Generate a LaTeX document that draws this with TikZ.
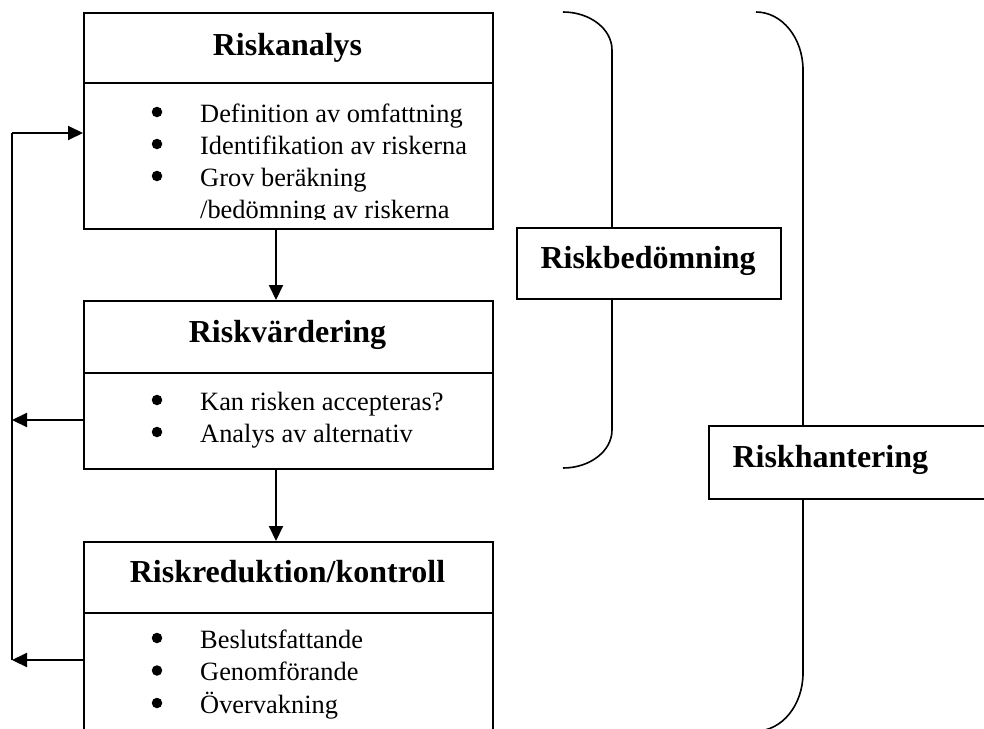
\documentclass[tikz,border=0pt]{standalone}
\usepackage{fontspec}
\setmainfont{Liberation Serif}
\usetikzlibrary{arrows.meta}

\tikzset{
    stage/.style={draw, line width=2pt, anchor=north west, inner sep=0pt},
    head/.style={font=\fontsize{32}{38}\selectfont\bfseries, anchor=base},
    item/.style={font=\fontsize{26.4}{32}\selectfont, anchor=base west, inner sep=0pt},
    dot/.style={circle, fill, inner sep=0pt, minimum size=10.5pt},
    tag/.style={draw, line width=2pt, fill=white, anchor=north west, inner sep=0pt},
    flow/.style={line width=2pt, -{Triangle[length=15pt,width=14pt]}},
    brace/.style={line width=1.6pt}
}

\begin{document}
\begin{tikzpicture}[x=1pt,y=-1pt]
        \useasboundingbox (0,0) rectangle (984,728);
        \clip (0,0) rectangle (984,728);
        % the three stages
        \node[stage, minimum width=409pt, minimum height=216pt] (ana) at (83,12) {};
        \node[stage, minimum width=409pt, minimum height=168pt] (val) at (83,300) {};
        \node[stage, minimum width=409pt, minimum height=200pt] (ctl) at (83,541) {};
        \draw [line width=2pt] (83,83) -- (492,83);
        \draw [line width=2pt] (83,373) -- (492,373);
        \draw [line width=2pt] (83,613) -- (492,613);
        \node[head] (anaT) at (287.5,55) {Riskanalys};
        \node[head] (valT) at (287.5,342) {Riskvärdering};
        \node[head] (ctlT) at (287.5,582) {Riskreduktion/kontroll};
        \begin{scope}
            \clip (83,12) rectangle (492,219);
            \foreach[count=\i] \t in {Definition av omfattning,Identifikation av riskerna,Grov beräkning}{
                \node[dot] (anaB\i) at (157,112+\i*32-32) {};
                \node[item] (anaI\i) at (200,122+\i*32-32) {\t};
            }
            \node[item] (anaI4) at (200,218) {/bedömning av riskerna};
        \end{scope}
        \foreach[count=\i] \t in {Kan risken accepteras?,Analys av alternativ}{
            \node[dot] (valB\i) at (157,400+\i*32-32) {};
            \node[item] (valI\i) at (200,410+\i*32-32) {\t};
        }
        \foreach[count=\i] \t in {Beslutsfattande,Genomförande,Övervakning}{
            \node[dot] (ctlB\i) at (157,638+\i*32.5-32.5) {};
            \node[item] (ctlI\i) at (200,648+\i*32.5-32.5) {\t};
        }
        % arrows between stages
        \draw [flow] ([xshift=193pt]ana.south west) -- ([xshift=193pt]val.north west);
        \draw [flow] ([xshift=193pt]val.south west) -- ([xshift=193pt]ctl.north west);
        % feedback line
        \coordinate (fbtop) at (12,133);
        \coordinate (fbmid) at (12,420);
        \coordinate (fbbot) at (12,660);
        \draw [line width=2pt] (fbbot) -- (fbtop);
        \draw [flow] (fbtop) -- (fbtop -| ana.west);
        \draw [flow] (fbmid -| val.west) -- (fbmid);
        \draw [flow] (fbbot -| ctl.west) -- (fbbot);
        % brackets
        \draw [brace] (563,12) .. controls (590,12) and (612,29) .. (612,50)
            -- (612,430) .. controls (612,451) and (590,468) .. (563,468);
        \draw [brace] (756,12) .. controls (782,12) and (803,38) .. (803,70)
            -- (803,673) .. controls (803,705) and (782,731) .. (756,731);
        \node[tag, minimum width=264pt, minimum height=71pt] (bed) at (516,227) {};
        \node[head, anchor=base west] (bedT) at (537,268) {Riskbedömning};
        \node[tag, minimum width=290pt, minimum height=73pt] (han) at (708,425) {};
        \node[head, anchor=base west] (hanT) at (729,467) {Riskhantering};
\end{tikzpicture}
\end{document}
